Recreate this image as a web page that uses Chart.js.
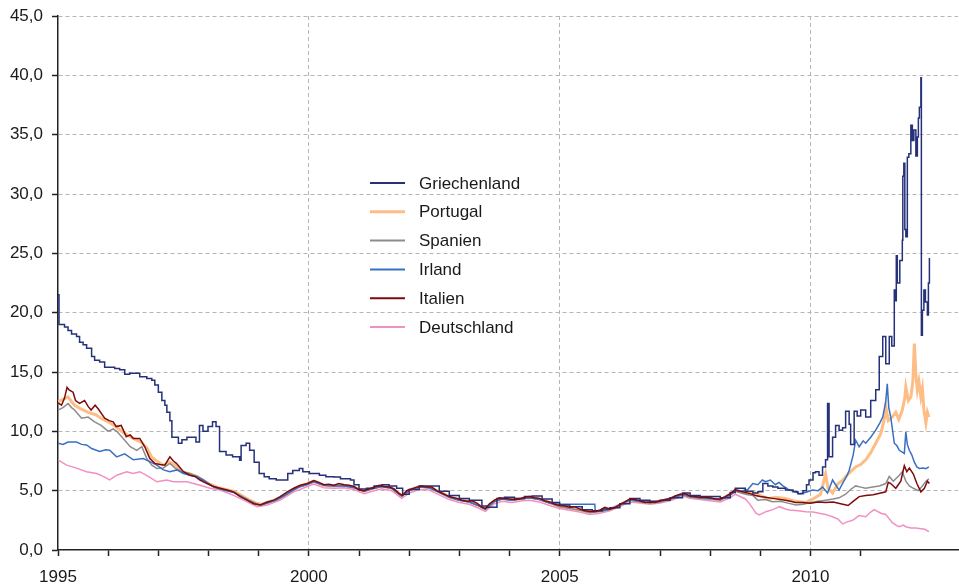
<!DOCTYPE html>
<html>
<head>
<meta charset="utf-8">
<script src="https://cdn.jsdelivr.net/npm/chart.js@4"></script>
<style>
  html, body { margin: 0; padding: 0; background: #ffffff; overflow: hidden; }
  #wrap { width: 959px; height: 584px; position: relative; }
</style>
</head>
<body>
<div id="wrap"><canvas id="yields"></canvas></div>
<script>
// Renditen 10-jähriger Staatsanleihen in % (Jahr als Dezimalzahl, Wert)
const griechenland = [
  [1995.0, 21.5], [1995.02, 19.0], [1995.13, 18.8], [1995.2, 18.5], [1995.27, 18.2], [1995.37, 18.0],
  [1995.43, 17.5], [1995.5, 17.3], [1995.57, 17.0], [1995.67, 16.3], [1995.73, 16.0], [1995.83, 15.85],
  [1995.93, 15.4], [1996.03, 15.4], [1996.13, 15.3], [1996.23, 15.2], [1996.33, 14.8], [1996.43, 14.9],
  [1996.57, 14.9], [1996.63, 14.6], [1996.77, 14.45], [1996.87, 14.3], [1996.93, 13.9], [1997.0, 13.3],
  [1997.07, 12.6], [1997.13, 12.2], [1997.17, 11.6], [1997.23, 10.9], [1997.27, 9.5], [1997.4, 9.0],
  [1997.47, 9.3], [1997.57, 9.5], [1997.67, 9.5], [1997.75, 9.1], [1997.82, 10.5], [1997.89, 10.0],
  [1997.99, 10.4], [1998.08, 10.8], [1998.15, 10.4], [1998.22, 8.3], [1998.35, 8.0], [1998.48, 7.85],
  [1998.62, 7.57], [1998.65, 8.8], [1998.75, 9.0], [1998.82, 8.4], [1998.91, 7.4], [1999.01, 6.45],
  [1999.11, 6.17], [1999.21, 6.0], [1999.35, 5.9], [1999.48, 5.9], [1999.58, 6.45], [1999.68, 6.7],
  [1999.81, 6.87], [1999.88, 6.6], [2000.01, 6.45], [2000.21, 6.3], [2000.34, 6.17], [2000.5, 6.15],
  [2000.63, 6.0], [2000.83, 5.9], [2000.9, 5.5], [2001.0, 5.15], [2001.15, 5.2], [2001.3, 5.4],
  [2001.45, 5.5], [2001.6, 5.4], [2001.75, 5.2], [2001.87, 4.7], [2002.0, 5.1], [2002.2, 5.4],
  [2002.4, 5.4], [2002.6, 4.95], [2002.8, 4.6], [2003.0, 4.35], [2003.2, 4.2], [2003.45, 3.7],
  [2003.55, 3.6], [2003.75, 4.35], [2003.9, 4.45], [2004.1, 4.35], [2004.3, 4.5], [2004.45, 4.55],
  [2004.65, 4.3], [2004.85, 4.0], [2005.0, 3.8], [2005.2, 3.65], [2005.45, 3.4], [2005.65, 3.3],
  [2005.85, 3.45], [2006.0, 3.55], [2006.2, 3.9], [2006.4, 4.35], [2006.6, 4.2], [2006.8, 4.1],
  [2007.0, 4.2], [2007.2, 4.4], [2007.45, 4.8], [2007.6, 4.6], [2007.8, 4.5], [2008.0, 4.5],
  [2008.2, 4.4], [2008.4, 4.85], [2008.5, 5.2], [2008.7, 4.95], [2008.85, 4.8], [2008.95, 4.9],
  [2009.05, 5.6], [2009.15, 5.4], [2009.25, 5.3], [2009.35, 5.2], [2009.5, 5.05], [2009.65, 4.9],
  [2009.75, 4.75], [2009.85, 5.0], [2009.92, 5.5], [2009.97, 5.9], [2010.05, 6.5], [2010.1, 6.6],
  [2010.17, 6.3], [2010.24, 7.0], [2010.3, 7.6], [2010.34, 12.35], [2010.37, 7.85], [2010.44, 9.5],
  [2010.5, 10.5], [2010.57, 10.1], [2010.64, 10.3], [2010.7, 11.7], [2010.77, 10.6], [2010.8, 8.9],
  [2010.87, 11.7], [2010.93, 11.3], [2011.0, 11.8], [2011.1, 11.2], [2011.2, 12.6], [2011.3, 13.5],
  [2011.37, 16.3], [2011.44, 18.0], [2011.5, 15.7], [2011.57, 18.0], [2011.62, 17.2], [2011.67, 21.9],
  [2011.7, 21.0], [2011.71, 24.8], [2011.73, 22.5], [2011.78, 24.4], [2011.83, 26.1], [2011.84, 31.5],
  [2011.86, 32.6], [2011.88, 27.0], [2011.9, 26.4], [2011.93, 33.1], [2011.96, 33.4], [2012.0, 35.8],
  [2012.03, 34.5], [2012.06, 35.4], [2012.1, 33.2], [2012.13, 34.8], [2012.15, 36.4], [2012.17, 37.3],
  [2012.2, 39.8], [2012.21, 18.1], [2012.23, 20.2], [2012.26, 21.9], [2012.29, 20.9], [2012.33, 19.8],
  [2012.35, 22.5], [2012.37, 24.6]
];

const portugal = [
  [1995.0, 12.5], [1995.1, 12.7], [1995.2, 12.9], [1995.27, 12.5], [1995.33, 12.2], [1995.45, 11.9],
  [1995.6, 11.6], [1995.75, 11.4], [1995.86, 11.1], [1996.0, 10.8], [1996.15, 10.4], [1996.3, 9.9],
  [1996.44, 9.55], [1996.55, 9.3], [1996.65, 9.1], [1996.77, 8.6], [1996.87, 7.8], [1996.97, 7.5],
  [1997.1, 7.15], [1997.23, 7.4], [1997.34, 7.1], [1997.47, 6.6], [1997.63, 6.4], [1997.77, 6.2],
  [1997.9, 5.85], [1998.05, 5.5], [1998.2, 5.25], [1998.35, 5.1], [1998.5, 4.95], [1998.65, 4.6],
  [1998.8, 4.25], [1998.95, 3.95], [1999.05, 3.85], [1999.2, 4.05], [1999.35, 4.25], [1999.5, 4.6],
  [1999.65, 5.0], [1999.8, 5.35], [1999.95, 5.55], [2000.1, 5.8], [2000.3, 5.45], [2000.5, 5.4],
  [2000.7, 5.45], [2000.9, 5.3], [2001.1, 4.95], [2001.3, 5.25], [2001.45, 5.4], [2001.65, 5.25],
  [2001.85, 4.6], [2002.0, 5.05], [2002.2, 5.35], [2002.4, 5.3], [2002.6, 4.9], [2002.8, 4.5],
  [2003.0, 4.25], [2003.2, 4.1], [2003.4, 3.75], [2003.52, 3.45], [2003.7, 4.15], [2003.85, 4.35],
  [2004.05, 4.25], [2004.25, 4.35], [2004.4, 4.45], [2004.6, 4.3], [2004.8, 4.0], [2005.0, 3.7],
  [2005.2, 3.55], [2005.4, 3.4], [2005.6, 3.2], [2005.8, 3.3], [2006.0, 3.45], [2006.2, 3.8],
  [2006.4, 4.25], [2006.6, 4.1], [2006.8, 4.0], [2007.0, 4.1], [2007.2, 4.3], [2007.45, 4.7],
  [2007.6, 4.5], [2007.8, 4.4], [2008.0, 4.35], [2008.2, 4.25], [2008.4, 4.7], [2008.5, 5.05],
  [2008.7, 4.85], [2008.85, 4.9], [2009.0, 4.6], [2009.15, 4.3], [2009.3, 4.45], [2009.5, 4.35],
  [2009.7, 4.1], [2009.9, 4.0], [2010.05, 4.3], [2010.2, 4.7], [2010.3, 6.4], [2010.35, 5.2],
  [2010.44, 4.8], [2010.55, 5.6], [2010.65, 5.9], [2010.7, 6.2], [2010.8, 6.6], [2010.9, 7.0],
  [2011.0, 7.2], [2011.1, 7.6], [2011.2, 8.2], [2011.3, 9.0], [2011.4, 9.8], [2011.47, 11.0],
  [2011.5, 12.1], [2011.55, 10.9], [2011.63, 11.2], [2011.7, 11.6], [2011.76, 11.0], [2011.83, 11.8],
  [2011.88, 12.8], [2011.9, 13.75], [2011.95, 12.6], [2012.0, 12.9], [2012.04, 14.2], [2012.07, 17.4],
  [2012.1, 14.8], [2012.13, 13.5], [2012.16, 14.2], [2012.2, 12.9], [2012.23, 13.6], [2012.26, 11.8],
  [2012.3, 10.7], [2012.33, 11.6], [2012.36, 11.2]
];

const spanien = [
  [1995.0, 11.8], [1995.1, 12.0], [1995.2, 12.35], [1995.27, 12.0], [1995.33, 11.8], [1995.47, 11.1],
  [1995.6, 11.2], [1995.73, 10.8], [1995.86, 10.5], [1996.0, 10.0], [1996.1, 10.2], [1996.17, 10.0],
  [1996.3, 9.4], [1996.44, 8.7], [1996.57, 8.4], [1996.67, 8.7], [1996.77, 7.7], [1996.87, 7.15],
  [1996.97, 6.87], [1997.1, 6.9], [1997.23, 7.3], [1997.34, 6.87], [1997.47, 6.6], [1997.63, 6.45],
  [1997.77, 6.17], [1997.9, 5.85], [1998.05, 5.45], [1998.2, 5.2], [1998.35, 5.05], [1998.5, 4.9],
  [1998.65, 4.55], [1998.8, 4.2], [1998.95, 3.9], [1999.05, 3.8], [1999.2, 4.0], [1999.35, 4.2],
  [1999.5, 4.55], [1999.65, 4.95], [1999.8, 5.3], [1999.95, 5.5], [2000.1, 5.75], [2000.3, 5.45],
  [2000.5, 5.4], [2000.7, 5.45], [2000.9, 5.3], [2001.1, 4.95], [2001.3, 5.2], [2001.45, 5.35],
  [2001.65, 5.2], [2001.85, 4.55], [2002.0, 5.0], [2002.2, 5.3], [2002.4, 5.25], [2002.6, 4.85],
  [2002.8, 4.45], [2003.0, 4.2], [2003.2, 4.05], [2003.4, 3.7], [2003.52, 3.4], [2003.7, 4.1],
  [2003.85, 4.3], [2004.05, 4.2], [2004.25, 4.3], [2004.4, 4.4], [2004.6, 4.25], [2004.8, 3.95],
  [2005.0, 3.65], [2005.2, 3.5], [2005.4, 3.35], [2005.6, 3.15], [2005.8, 3.25], [2006.0, 3.4],
  [2006.2, 3.75], [2006.4, 4.2], [2006.6, 4.05], [2006.8, 3.95], [2007.0, 4.05], [2007.2, 4.25],
  [2007.45, 4.65], [2007.6, 4.45], [2007.8, 4.35], [2008.0, 4.3], [2008.2, 4.2], [2008.4, 4.6],
  [2008.5, 4.95], [2008.7, 4.7], [2008.85, 4.6], [2008.95, 4.2], [2009.1, 4.25], [2009.24, 4.07],
  [2009.4, 4.1], [2009.55, 3.95], [2009.71, 3.8], [2009.85, 3.85], [2010.01, 4.0], [2010.15, 4.1],
  [2010.31, 4.2], [2010.45, 4.3], [2010.57, 4.4], [2010.7, 4.7], [2010.8, 5.1], [2010.9, 5.4],
  [2011.0, 5.3], [2011.1, 5.2], [2011.24, 5.3], [2011.37, 5.4], [2011.5, 5.6], [2011.57, 6.2],
  [2011.65, 5.8], [2011.77, 6.3], [2011.83, 6.6], [2011.9, 5.8], [2011.97, 5.4], [2012.05, 5.2],
  [2012.15, 5.0], [2012.23, 5.4], [2012.3, 5.8], [2012.36, 6.0]
];

const irland = [
  [1995.0, 9.0], [1995.1, 8.9], [1995.2, 9.1], [1995.37, 9.1], [1995.47, 8.9], [1995.57, 8.85],
  [1995.67, 8.55], [1995.83, 8.3], [1995.95, 8.45], [1996.03, 8.4], [1996.17, 7.85], [1996.33, 8.1],
  [1996.5, 7.6], [1996.7, 7.7], [1996.83, 7.45], [1996.97, 7.15], [1997.1, 6.75], [1997.23, 6.6],
  [1997.37, 6.75], [1997.5, 6.45], [1997.63, 6.3], [1997.77, 6.2], [1997.9, 5.9], [1998.1, 5.3],
  [1998.3, 5.05], [1998.5, 4.85], [1998.65, 4.5], [1998.8, 4.15], [1998.95, 3.85], [1999.05, 3.8],
  [1999.2, 4.0], [1999.35, 4.2], [1999.5, 4.55], [1999.65, 4.95], [1999.8, 5.3], [1999.95, 5.5],
  [2000.1, 5.75], [2000.3, 5.45], [2000.5, 5.4], [2000.7, 5.4], [2000.9, 5.25], [2001.1, 4.95],
  [2001.3, 5.2], [2001.45, 5.35], [2001.65, 5.2], [2001.85, 4.55], [2002.0, 5.0], [2002.2, 5.3],
  [2002.4, 5.25], [2002.6, 4.85], [2002.8, 4.45], [2003.0, 4.2], [2003.2, 4.05], [2003.4, 3.7],
  [2003.52, 3.45], [2003.7, 4.1], [2003.85, 4.3], [2004.05, 4.2], [2004.25, 4.35], [2004.4, 4.4],
  [2004.6, 4.25], [2004.8, 3.95], [2005.0, 3.85], [2005.7, 3.85], [2005.71, 3.25], [2005.85, 3.3],
  [2006.0, 3.45], [2006.2, 3.8], [2006.4, 4.25], [2006.6, 4.1], [2006.8, 4.0], [2007.0, 4.1],
  [2007.2, 4.3], [2007.45, 4.7], [2007.6, 4.5], [2007.8, 4.4], [2008.0, 4.35], [2008.2, 4.25],
  [2008.4, 4.65], [2008.5, 5.0], [2008.6, 4.95], [2008.75, 5.1], [2008.85, 5.6], [2008.95, 5.5],
  [2009.04, 5.9], [2009.1, 5.75], [2009.2, 5.9], [2009.3, 5.5], [2009.37, 5.7], [2009.45, 5.4],
  [2009.58, 5.05], [2009.7, 4.9], [2009.77, 4.75], [2009.9, 4.85], [2010.04, 5.05], [2010.15, 5.0],
  [2010.24, 5.3], [2010.34, 4.8], [2010.44, 5.9], [2010.5, 5.5], [2010.57, 5.05], [2010.65, 5.7],
  [2010.72, 6.2], [2010.77, 6.7], [2010.85, 8.0], [2010.9, 9.25], [2010.97, 8.7], [2011.05, 9.2],
  [2011.1, 9.0], [2011.2, 9.5], [2011.3, 10.1], [2011.38, 10.7], [2011.44, 11.2], [2011.5, 12.5],
  [2011.53, 14.0], [2011.56, 12.0], [2011.6, 11.2], [2011.67, 9.0], [2011.72, 8.8], [2011.77, 8.4],
  [2011.87, 8.14], [2011.9, 9.96], [2011.93, 8.9], [2011.97, 8.4], [2012.02, 8.0], [2012.07, 7.4],
  [2012.12, 7.0], [2012.17, 6.87], [2012.25, 6.9], [2012.3, 6.85], [2012.36, 7.0]
];

const italien = [
  [1995.0, 12.4], [1995.07, 12.2], [1995.13, 12.8], [1995.18, 13.7], [1995.22, 13.5], [1995.3, 13.3],
  [1995.35, 12.6], [1995.43, 12.35], [1995.53, 12.6], [1995.6, 12.1], [1995.66, 11.8], [1995.74, 12.2],
  [1995.8, 11.9], [1995.93, 11.1], [1996.02, 10.9], [1996.1, 10.8], [1996.16, 10.4], [1996.26, 10.5],
  [1996.36, 9.55], [1996.44, 9.7], [1996.5, 9.4], [1996.63, 9.4], [1996.73, 8.7], [1996.83, 7.7],
  [1996.93, 7.3], [1997.03, 7.2], [1997.13, 7.15], [1997.23, 7.85], [1997.3, 7.5], [1997.36, 7.3],
  [1997.5, 6.6], [1997.63, 6.3], [1997.73, 6.2], [1997.83, 5.9], [1997.97, 5.6], [1998.1, 5.35],
  [1998.23, 5.2], [1998.37, 5.05], [1998.5, 4.9], [1998.63, 4.5], [1998.77, 4.2], [1998.9, 3.9],
  [1999.03, 3.8], [1999.17, 4.05], [1999.3, 4.2], [1999.43, 4.5], [1999.57, 4.9], [1999.7, 5.2],
  [1999.83, 5.45], [1999.97, 5.6], [2000.1, 5.85], [2000.2, 5.7], [2000.3, 5.5], [2000.4, 5.55],
  [2000.5, 5.45], [2000.6, 5.6], [2000.7, 5.5], [2000.8, 5.45], [2000.9, 5.35], [2001.0, 5.05],
  [2001.1, 5.0], [2001.2, 5.15], [2001.3, 5.3], [2001.4, 5.45], [2001.5, 5.35], [2001.6, 5.3],
  [2001.7, 5.15], [2001.8, 4.75], [2001.87, 4.6], [2001.95, 5.0], [2002.05, 5.15], [2002.15, 5.3],
  [2002.25, 5.4], [2002.35, 5.3], [2002.45, 5.3], [2002.55, 5.0], [2002.65, 4.8], [2002.75, 4.6],
  [2002.85, 4.45], [2002.95, 4.35], [2003.05, 4.2], [2003.15, 4.1], [2003.25, 4.15], [2003.35, 3.95],
  [2003.45, 3.6], [2003.52, 3.5], [2003.6, 3.9], [2003.7, 4.2], [2003.8, 4.4], [2003.9, 4.35],
  [2004.0, 4.3], [2004.1, 4.25], [2004.2, 4.3], [2004.3, 4.45], [2004.4, 4.5], [2004.5, 4.4],
  [2004.6, 4.35], [2004.7, 4.15], [2004.8, 4.05], [2004.9, 3.85], [2005.0, 3.75], [2005.1, 3.7],
  [2005.2, 3.6], [2005.3, 3.65], [2005.4, 3.45], [2005.5, 3.3], [2005.6, 3.25], [2005.7, 3.25],
  [2005.8, 3.35], [2005.9, 3.6], [2006.0, 3.45], [2006.1, 3.55], [2006.2, 3.85], [2006.3, 4.05],
  [2006.4, 4.3], [2006.5, 4.25], [2006.6, 4.15], [2006.7, 4.0], [2006.8, 4.05], [2006.9, 4.0],
  [2007.0, 4.15], [2007.1, 4.25], [2007.2, 4.35], [2007.3, 4.55], [2007.4, 4.7], [2007.5, 4.75],
  [2007.6, 4.55], [2007.7, 4.5], [2007.8, 4.45], [2007.9, 4.45], [2008.0, 4.4], [2008.1, 4.3],
  [2008.2, 4.3], [2008.3, 4.5], [2008.4, 4.75], [2008.5, 5.1], [2008.6, 4.95], [2008.7, 4.85],
  [2008.8, 4.75], [2008.9, 4.6], [2009.0, 4.5], [2009.1, 4.45], [2009.25, 4.35], [2009.4, 4.25],
  [2009.5, 4.2], [2009.6, 4.1], [2009.7, 4.0], [2009.85, 4.0], [2010.0, 3.95], [2010.15, 4.05],
  [2010.3, 4.0], [2010.45, 4.05], [2010.6, 3.9], [2010.75, 3.75], [2010.85, 4.1], [2010.97, 4.5],
  [2011.1, 4.6], [2011.25, 4.65], [2011.4, 4.8], [2011.5, 4.9], [2011.55, 5.7], [2011.6, 5.6],
  [2011.7, 5.2], [2011.8, 5.8], [2011.87, 7.1], [2011.92, 6.6], [2011.97, 6.9], [2012.05, 6.4],
  [2012.12, 5.6], [2012.2, 4.9], [2012.27, 5.2], [2012.33, 5.8], [2012.37, 5.6]
];

const deutschland = [
  [1995.0, 7.6], [1995.17, 7.15], [1995.37, 6.9], [1995.57, 6.6], [1995.77, 6.45], [1995.9, 6.2],
  [1996.03, 5.9], [1996.17, 6.3], [1996.37, 6.6], [1996.5, 6.45], [1996.63, 6.6], [1996.8, 6.2],
  [1996.97, 5.75], [1997.17, 5.9], [1997.3, 5.75], [1997.57, 5.75], [1997.83, 5.45], [1998.03, 5.2],
  [1998.23, 5.05], [1998.5, 4.6], [1998.77, 4.05], [1998.97, 3.65], [1999.17, 3.8], [1999.43, 4.2],
  [1999.7, 4.9], [1999.97, 5.35], [2000.1, 5.55], [2000.3, 5.25], [2000.5, 5.2], [2000.7, 5.25],
  [2000.9, 5.1], [2001.1, 4.75], [2001.3, 5.0], [2001.45, 5.15], [2001.65, 5.0], [2001.85, 4.35],
  [2002.0, 4.8], [2002.2, 5.1], [2002.4, 5.05], [2002.6, 4.65], [2002.8, 4.25], [2003.0, 4.0],
  [2003.2, 3.85], [2003.4, 3.5], [2003.52, 3.25], [2003.7, 3.9], [2003.85, 4.1], [2004.05, 4.0],
  [2004.25, 4.15], [2004.4, 4.2], [2004.6, 4.05], [2004.8, 3.75], [2005.0, 3.5], [2005.2, 3.35],
  [2005.4, 3.2], [2005.6, 3.0], [2005.8, 3.1], [2006.0, 3.3], [2006.2, 3.65], [2006.4, 4.05],
  [2006.6, 3.95], [2006.8, 3.85], [2007.0, 3.95], [2007.2, 4.15], [2007.45, 4.55], [2007.6, 4.35],
  [2007.8, 4.25], [2008.0, 4.15], [2008.2, 4.05], [2008.4, 4.4], [2008.5, 4.7], [2008.7, 4.3],
  [2008.78, 3.93], [2008.85, 3.5], [2008.91, 3.1], [2008.98, 2.95], [2009.11, 3.23], [2009.25, 3.4],
  [2009.38, 3.65], [2009.5, 3.45], [2009.58, 3.37], [2009.75, 3.3], [2009.91, 3.23], [2010.05, 3.2],
  [2010.17, 3.1], [2010.3, 3.0], [2010.44, 2.8], [2010.55, 2.6], [2010.64, 2.2], [2010.72, 2.35],
  [2010.84, 2.5], [2010.97, 2.9], [2011.1, 2.8], [2011.2, 3.2], [2011.27, 3.4], [2011.4, 3.1],
  [2011.5, 3.0], [2011.63, 2.3], [2011.72, 2.05], [2011.77, 1.96], [2011.85, 2.1], [2011.9, 1.96],
  [2012.0, 1.85], [2012.1, 1.85], [2012.2, 1.8], [2012.28, 1.75], [2012.36, 1.55]
];

const labels = ['Griechenland', 'Portugal', 'Spanien', 'Irland', 'Italien', 'Deutschland'];
const colors = ['#25317a', '#fdbd85', '#8c8c8c', '#3a70c4', '#7d0b0b', '#f28fc3'];
const widths = [1.5, 3, 1.5, 1.5, 1.5, 1.5];
const drawOrder = [1, 4, 3, 2, 0, 5];
const series = [griechenland, portugal, spanien, irland, italien, deutschland];

const yTicks = [0, 5, 10, 15, 20, 25, 30, 35, 40, 45];
const xLabelYears = [1995, 2000, 2005, 2010];

const FONT = 'Liberation Sans, Arial, sans-serif';

// legend drawn inside the plot area
const innerLegend = {
  id: 'innerLegend',
  afterDraw(chart) {
    const ctx = chart.ctx;
    ctx.save();
    ctx.font = '17px ' + FONT;
    ctx.textBaseline = 'middle';
    chart.data.datasets.forEach((ds, i) => {
      const y = 183 + i * 28.8;
      ctx.strokeStyle = ds.borderColor;
      ctx.lineWidth = ds.borderWidth === 3 ? 3 : 2;
      ctx.beginPath();
      ctx.moveTo(370, y);
      ctx.lineTo(405, y);
      ctx.stroke();
      ctx.fillStyle = '#1a1a1a';
      ctx.fillText(ds.label, 419, y + 1);
    });
    ctx.restore();
  }
};

const isYear = (c) => c.tick && Number.isInteger(c.tick.value);

new Chart(document.getElementById('yields'), {
  type: 'line',
  data: {
    datasets: series.map((s, i) => ({
      label: labels[i],
      data: s.map(([x, y]) => ({ x, y })),
      borderColor: colors[i],
      backgroundColor: colors[i],
      borderWidth: widths[i],
      pointRadius: 0,
      tension: 0,
      stepped: i === 0 ? 'before' : false,
      order: drawOrder[i],
    })),
  },
  options: {
    responsive: true,
    maintainAspectRatio: false,
    animation: false,
    devicePixelRatio: 1,
    layout: { padding: { top: 16, right: 1, left: 0, bottom: 0 } },
    plugins: {
      legend: { display: false },
      tooltip: { enabled: false },
    },
    scales: {
      x: {
        type: 'linear',
        min: 1995,
        max: 2012.94,
        afterFit: (scale) => { scale.height = 34; },
        ticks: {
          stepSize: 1,
          maxTicksLimit: 40,
          autoSkip: false,
          maxRotation: 0,
          padding: 0,
          color: '#1a1a1a',
          font: { family: FONT, size: 17, lineHeight: '42px' },
          callback: (v) => (xLabelYears.includes(v) ? String(v) : ''),
        },
        grid: {
          color: (c) => (isYear(c) && c.tick.value % 5 === 0 && c.tick.value > 1995 ? '#b5b5b5' : 'rgba(0,0,0,0)'),
          tickColor: (c) => (isYear(c) ? '#222' : 'rgba(0,0,0,0)'),
          tickLength: 6,
          tickWidth: 1.5,
          lineWidth: 1,
        },
        border: { color: '#222', width: 1.5, dash: [4, 3] },
      },
      y: {
        min: 0,
        max: 45,
        afterFit: (scale) => { scale.width = 58; },
        afterBuildTicks: (scale) => { scale.ticks = yTicks.map((v) => ({ value: v })); },
        ticks: {
          padding: 9,
          color: '#1a1a1a',
          font: { family: FONT, size: 17, lineHeight: 0.6 },
          callback: (v) => v.toFixed(1).replace('.', ','),
        },
        grid: {
          color: (c) => (c.tick && c.tick.value > 0 ? '#b5b5b5' : 'rgba(0,0,0,0)'),
          tickColor: '#222',
          tickLength: 6,
          tickWidth: 1.5,
          lineWidth: 1,
        },
        border: { color: '#222', width: 1.5, dash: [4, 3] },
      },
    },
  },
  plugins: [innerLegend],
});
</script>
</body>
</html>
